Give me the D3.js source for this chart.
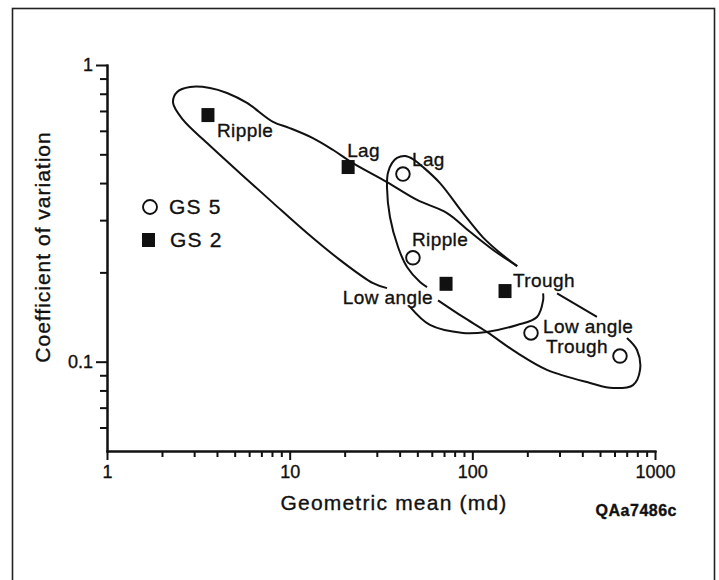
<!DOCTYPE html>
<meta charset="utf-8">
<style>
body { margin: 0; background: #fff; }
text { font-family: "Liberation Sans", Arial, Helvetica, sans-serif; fill: #111; stroke: #111; stroke-width: 0.35px; }
.axis path, .axis line { stroke: #111; stroke-width: 2; }
.axis text { font-size: 18px; fill: #111; stroke: #111; stroke-width: 0.35px; }
.envelope { fill: none; stroke: #111; stroke-width: 2; }
.label { font-size: 19px; letter-spacing: 0.4px; }
</style>
<svg id="chart" width="719" height="580"></svg>
<script src="https://cdn.jsdelivr.net/npm/d3@7"></script>
<script>

// facies, same order for both series
var categories = ["Lag", "Ripple", "Low angle", "Trough"];

// GS 2 (filled squares)
var gs2Mean = [20.9, 3.57, 71.8, 151];
var gs2Cv   = [0.453, 0.678, 0.183, 0.173];

// GS 5 (open circles)
var gs5Mean = [41.7, 47.3, 209.5, 643];
var gs5Cv   = [0.429, 0.224, 0.125, 0.1045];

var xMajorTicks = [1, 10, 100, 1000];
var yMajorTicks = [0.1, 1];

// hand-drawn envelopes, traced as [geometric mean, coefficient of variation]
// pieces are broken where the original lines run under labels
var gs2EnvelopeUpper = [
  [34.1, 0.177], [28.6, 0.184], [18.9, 0.220], [12.4, 0.272], [8.11, 0.343],
  [5.35, 0.432], [3.53, 0.546], [2.61, 0.653], [2.30, 0.745], [2.42, 0.811],
  [2.85, 0.843], [3.66, 0.837], [4.54, 0.805], [5.84, 0.745], [8.11, 0.643],
  [10.0, 0.613], [13.4, 0.567], [17.3, 0.517], [22.2, 0.467], [34.1, 0.403],
  [49.8, 0.351], [72.7, 0.317], [97.1, 0.274], [130, 0.238], [176, 0.210]
];
var gs2EnvelopeMid = [[291, 0.170], [481, 0.1415]];
var gs2EnvelopeLoop = [
  [702, 0.1202], [797, 0.1095], [828, 0.0938], [758, 0.0834], [589, 0.0815],
  [441, 0.0848], [256, 0.0938], [176, 0.107], [120, 0.126], [88.9, 0.1415],
  [64.9, 0.161]
];
var gs5EnvelopeMain = [
  [56.5, 0.1785], [51.7, 0.1856], [43.9, 0.2085], [39.2, 0.2435], [35.4, 0.3073],
  [34.1, 0.388], [34.5, 0.4325], [36.3, 0.467], [38.7, 0.486], [42.8, 0.4935],
  [47.3, 0.482], [53.7, 0.453], [66.5, 0.40], [88.9, 0.317], [114, 0.263],
  [142, 0.2325], [176, 0.210]
];
var gs5EnvelopeBase = [
  [244, 0.170], [244, 0.161], [226, 0.1415], [176, 0.133], [120, 0.126],
  [88.9, 0.125], [58.6, 0.133], [45.6, 0.153]
];

// label placement relative to its marker: dx, dy, anchor
var labelLayout = {
  "GS 2|Ripple":    [9, 22, "start"],
  "GS 2|Lag":       [-1, -10, "start"],
  "GS 2|Low angle": [-13, 20, "end"],
  "GS 2|Trough":    [8, -4, "start"],
  "GS 5|Lag":       [9, -8, "start"],
  "GS 5|Ripple":    [-1, -12, "start"],
  "GS 5|Low angle": [12, 0, "start"],
  "GS 5|Trough":    [-12, -3, "end"]
};

var svg = d3.select("svg");

var x = d3.scaleLog().domain([1, 1000]).range([107, 655]),
    y = d3.scaleLog().domain([0.05, 1]).range([451, 65]);

// frame round the figure (bottom edge is off the page)
svg.append("rect")
    .attr("x", 12.5).attr("y", 8.5)
    .attr("width", 702).attr("height", 620)
    .attr("fill", "none")
    .attr("stroke", "#222")
    .attr("stroke-width", 1.6);

function minorTicks(lo, hi) {
  var out = [];
  for (var p = lo; p < hi; p *= 10)
    for (var k = 2; k <= 9; k++) out.push(k * p);
  return out;
}

// x axis
svg.append("g")
    .attr("class", "axis")
    .attr("transform", "translate(0,451)")
    .call(d3.axisBottom(x).tickValues(minorTicks(1, 1000)).tickSize(6).tickSizeOuter(0).tickFormat(""));
svg.append("g")
    .attr("class", "axis")
    .attr("transform", "translate(0,451)")
    .call(d3.axisBottom(x).tickValues(xMajorTicks).tickSize(9).tickSizeOuter(0).tickPadding(5).tickFormat(d3.format("d")));

// y axis
svg.append("g")
    .attr("class", "axis")
    .attr("transform", "translate(107,0)")
    .call(d3.axisLeft(y).tickValues(minorTicks(0.01, 1).filter(function(d) { return d > 0.055 && d !== 0.1; })).tickSize(7).tickSizeOuter(0).tickFormat(""));
svg.append("g")
    .attr("class", "axis")
    .attr("transform", "translate(107,0)")
    .call(d3.axisLeft(y).tickValues(yMajorTicks).tickSize(11).tickSizeOuter(0).tickPadding(3).tickFormat(function(d) { return String(d); }));

svg.selectAll(".axis .domain").attr("stroke-linecap", "square");

// axis titles
svg.append("text")
    .attr("x", 394).attr("y", 510)
    .attr("text-anchor", "middle")
    .style("font-size", "21px")
    .style("letter-spacing", "1.2px")
    .text("Geometric mean (md)");

svg.append("text")
    .attr("transform", "translate(50,247) rotate(-90)")
    .attr("text-anchor", "middle")
    .style("font-size", "21px")
    .style("letter-spacing", "1px")
    .text("Coefficient of variation");

svg.append("text")
    .attr("x", 677).attr("y", 516)
    .attr("text-anchor", "end")
    .style("font-size", "16px")
    .style("font-weight", "bold")
    .style("letter-spacing", "0.5px")
    .text("QAa7486c");

// envelopes
var line = d3.line()
    .x(function(d) { return x(d[0]); })
    .y(function(d) { return y(d[1]); })
    .curve(d3.curveCatmullRom.alpha(0.5));

[gs2EnvelopeUpper, gs2EnvelopeMid, gs2EnvelopeLoop, gs5EnvelopeMain, gs5EnvelopeBase]
  .forEach(function(pts) {
    svg.append("path").attr("class", "envelope").attr("d", line(pts));
  });

// points
var gs2 = categories.map(function(c, i) { return {series: "GS 2", name: c, mean: gs2Mean[i], cv: gs2Cv[i]}; });
var gs5 = categories.map(function(c, i) { return {series: "GS 5", name: c, mean: gs5Mean[i], cv: gs5Cv[i]}; });

svg.selectAll(".sq").data(gs2).enter().append("rect")
    .attr("class", "sq")
    .attr("x", function(d) { return x(d.mean) - 6.5; })
    .attr("y", function(d) { return y(d.cv) - 7; })
    .attr("width", 13).attr("height", 14)
    .attr("fill", "#111");

svg.selectAll(".ci").data(gs5).enter().append("circle")
    .attr("class", "ci")
    .attr("cx", function(d) { return x(d.mean); })
    .attr("cy", function(d) { return y(d.cv); })
    .attr("r", 6.8)
    .attr("fill", "#fff")
    .attr("stroke", "#111")
    .attr("stroke-width", 1.9);

svg.selectAll(".label").data(gs2.concat(gs5)).enter().append("text")
    .attr("class", "label")
    .attr("x", function(d) { return x(d.mean) + labelLayout[d.series + "|" + d.name][0]; })
    .attr("y", function(d) { return y(d.cv) + labelLayout[d.series + "|" + d.name][1]; })
    .attr("text-anchor", function(d) { return labelLayout[d.series + "|" + d.name][2]; })
    .text(function(d) { return d.name; });

// legend
var legend = svg.append("g");
legend.append("circle")
    .attr("cx", 150).attr("cy", 207).attr("r", 7)
    .attr("fill", "#fff").attr("stroke", "#111").attr("stroke-width", 1.9);
legend.append("text")
    .attr("x", 169).attr("y", 214)
    .style("font-size", "21px").style("letter-spacing", "1.2px")
    .text("GS 5");
legend.append("rect")
    .attr("x", 142).attr("y", 233).attr("width", 13).attr("height", 14)
    .attr("fill", "#111");
legend.append("text")
    .attr("x", 170).attr("y", 247)
    .style("font-size", "21px").style("letter-spacing", "1.2px")
    .text("GS 2");

</script>
